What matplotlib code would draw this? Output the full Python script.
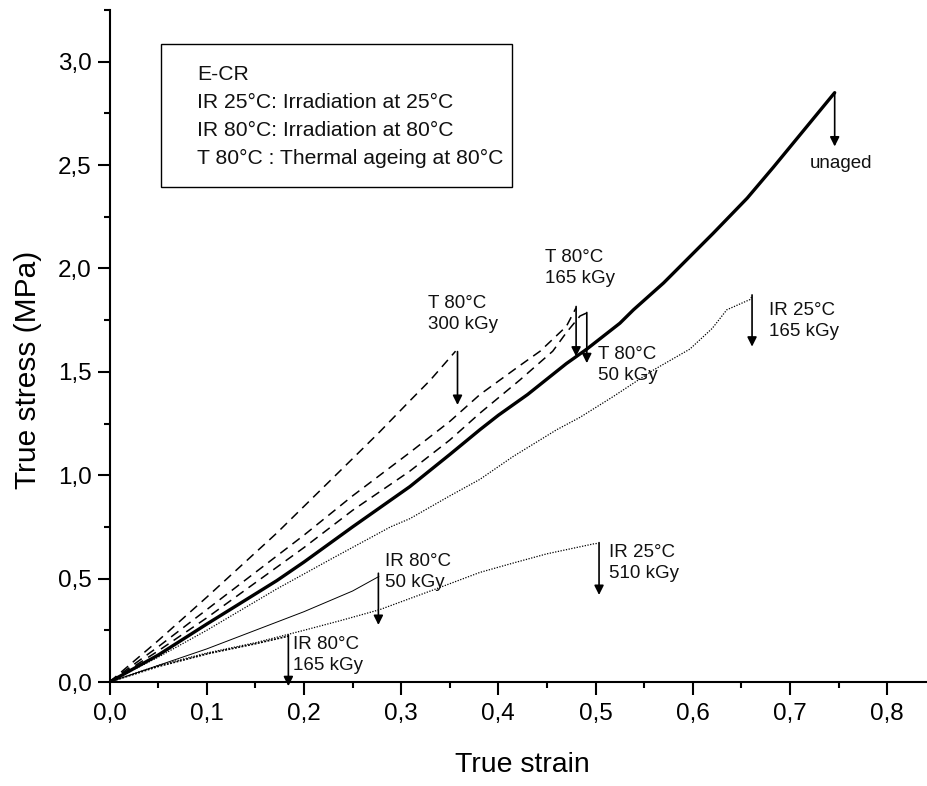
import matplotlib
matplotlib.use("Agg")
import matplotlib.pyplot as plt
from matplotlib.ticker import MultipleLocator, FuncFormatter
from matplotlib.patches import Rectangle

plt.rcParams['font.family'] = ['Liberation Sans', 'DejaVu Sans']

# ---- data (true strain, true stress MPa) ----
unaged_x = [0.0, 0.05, 0.10, 0.172, 0.20, 0.25, 0.309, 0.35, 0.381, 0.40, 0.43, 0.47, 0.491, 0.525, 0.539, 0.57, 0.621, 0.656, 0.683, 0.746]
unaged_y = [0.0, 0.13, 0.28, 0.49, 0.58, 0.75, 0.945, 1.10, 1.22, 1.29, 1.39, 1.54, 1.61, 1.735, 1.80, 1.93, 2.17, 2.34, 2.49, 2.85]

t80_300_x = [0.0, 0.05, 0.10, 0.172, 0.25, 0.278, 0.309, 0.33, 0.356]
t80_300_y = [0.0, 0.20, 0.41, 0.72, 1.08, 1.21, 1.36, 1.46, 1.60]

t80_165_x = [0.0, 0.05, 0.10, 0.15, 0.20, 0.25, 0.309, 0.35, 0.381, 0.422, 0.443, 0.47, 0.48]
t80_165_y = [0.0, 0.17, 0.35, 0.53, 0.71, 0.90, 1.11, 1.26, 1.39, 1.53, 1.60, 1.72, 1.81]

t80_50_x = [0.0, 0.05, 0.10, 0.15, 0.20, 0.25, 0.309, 0.35, 0.381, 0.422, 0.456, 0.47, 0.484, 0.491]
t80_50_y = [0.0, 0.15, 0.31, 0.48, 0.65, 0.83, 1.02, 1.17, 1.30, 1.46, 1.60, 1.69, 1.77, 1.785]

ir25_165_x = [0.0, 0.05, 0.10, 0.172, 0.23, 0.289, 0.309, 0.35, 0.381, 0.415, 0.46, 0.484, 0.518, 0.56, 0.597, 0.62, 0.635, 0.659, 0.661]
ir25_165_y = [0.0, 0.12, 0.25, 0.45, 0.60, 0.75, 0.79, 0.90, 0.98, 1.09, 1.22, 1.28, 1.38, 1.51, 1.61, 1.71, 1.80, 1.85, 1.865]

ir25_510_x = [0.0, 0.05, 0.10, 0.15, 0.20, 0.24, 0.278, 0.33, 0.381, 0.415, 0.45, 0.498, 0.503]
ir25_510_y = [0.0, 0.08, 0.14, 0.19, 0.25, 0.30, 0.35, 0.44, 0.53, 0.575, 0.62, 0.668, 0.671]

ir80_50_x = [0.0, 0.05, 0.10, 0.15, 0.20, 0.25, 0.277]
ir80_50_y = [0.0, 0.08, 0.16, 0.25, 0.34, 0.44, 0.51]

ir80_165_x = [0.0, 0.05, 0.103, 0.15, 0.184]
ir80_165_y = [0.0, 0.075, 0.139, 0.185, 0.222]

# arrow annotations: (x, y_start, y_end)
arrow_x = [0.746, 0.358, 0.480, 0.491, 0.661, 0.5036, 0.2766, 0.184]
arrow_y0 = [2.85, 1.598, 1.816, 1.787, 1.872, 0.674, 0.526, 0.227]
arrow_y1 = [2.59, 1.34, 1.574, 1.542, 1.622, 0.421, 0.276, -0.02]

label_text = ["unaged", "T 80°C\n300 kGy", "T 80°C\n165 kGy", "T 80°C\n50 kGy",
              "IR 25°C\n165 kGy", "IR 25°C\n510 kGy", "IR 80°C\n50 kGy", "IR 80°C\n165 kGy"]
label_x = [0.720, 0.328, 0.448, 0.503, 0.678, 0.514, 0.2834, 0.189]
label_y = [2.506, 1.78, 2.003, 1.531, 1.748, 0.574, 0.532, 0.131]

legend_lines = ["E-CR", "IR 25°C: Irradiation at 25°C", "IR 80°C: Irradiation at 80°C",
                "T 80°C : Thermal ageing at 80°C"]

x_ticks = [0.0, 0.1, 0.2, 0.3, 0.4, 0.5, 0.6, 0.7, 0.8]
y_ticks = [0.0, 0.5, 1.0, 1.5, 2.0, 2.5, 3.0]

# ---- figure ----
fig = plt.figure(figsize=(9.28, 7.86), dpi=100)
ax = fig.add_axes([0.118, 0.1323, 0.882, 0.855])

ax.plot(t80_300_x, t80_300_y, color='black', lw=1.1, ls=(0, (6, 4)))
ax.plot(t80_165_x, t80_165_y, color='black', lw=1.1, ls=(0, (6, 4)))
ax.plot(t80_50_x, t80_50_y, color='black', lw=1.1, ls=(0, (6, 4)))
ax.plot(ir25_165_x, ir25_165_y, color='black', lw=0.9, ls=(0, (1, 1.2)))
ax.plot(ir25_510_x, ir25_510_y, color='black', lw=0.9, ls=(0, (1, 1.2)))
ax.plot(ir80_50_x, ir80_50_y, color='black', lw=0.7, ls='-')
ax.plot(ir80_165_x, ir80_165_y, color='black', lw=1.2, ls=(0, (1.2, 0.8)))
ax.plot(unaged_x, unaged_y, color='black', lw=2.4, ls='-', solid_capstyle='round',
        solid_joinstyle='round')

for xa, ya0, ya1 in zip(arrow_x, arrow_y0, arrow_y1):
    ax.annotate("", xy=(xa, ya1), xytext=(xa, ya0),
                arrowprops=dict(arrowstyle='-|>', color='black', lw=1.2,
                                mutation_scale=14, shrinkA=0, shrinkB=0),
                annotation_clip=False)

for t, xl, yl in zip(label_text, label_x, label_y):
    ax.text(xl, yl, t, fontsize=13.5, ha='left', va='center', linespacing=1.3,
            color='#111111')

# legend box
ax.add_patch(Rectangle((0.0629, 0.7366), 0.4288, 0.2128, transform=ax.transAxes,
                       fill=False, edgecolor='black', lw=1.0))
for i, line in enumerate(legend_lines):
    ax.text(0.1069, 0.9033 - i * 0.04165, line, transform=ax.transAxes,
            fontsize=15.2, ha='left', va='center', color='#111111')

ax.set_xlim(0, 0.842)
ax.set_ylim(0, 3.25)
ax.set_xticks(x_ticks)
ax.set_yticks(y_ticks)
ax.xaxis.set_minor_locator(MultipleLocator(0.05))
ax.yaxis.set_minor_locator(MultipleLocator(0.25))
fmt = FuncFormatter(lambda v, p: f"{v:.1f}".replace('.', ','))
ax.xaxis.set_major_formatter(fmt)
ax.yaxis.set_major_formatter(fmt)

for s in ['top', 'right']:
    ax.spines[s].set_visible(False)
for s in ['left', 'bottom']:
    ax.spines[s].set_linewidth(1.5)
ax.tick_params(which='major', direction='out', length=9, width=1.5, labelsize=17.5)
ax.tick_params(axis='x', which='major', pad=6)
ax.tick_params(axis='y', which='major', pad=4)
ax.tick_params(which='minor', direction='out', length=4.5, width=1.5)

fig.text(0.5625, 0.0267, "True strain", fontsize=20.5, ha='center', va='center')
fig.text(0.030, 0.529, "True stress (MPa)", fontsize=21.5, ha='center', va='center', rotation=90)

fig.savefig("out.png", dpi=100)
